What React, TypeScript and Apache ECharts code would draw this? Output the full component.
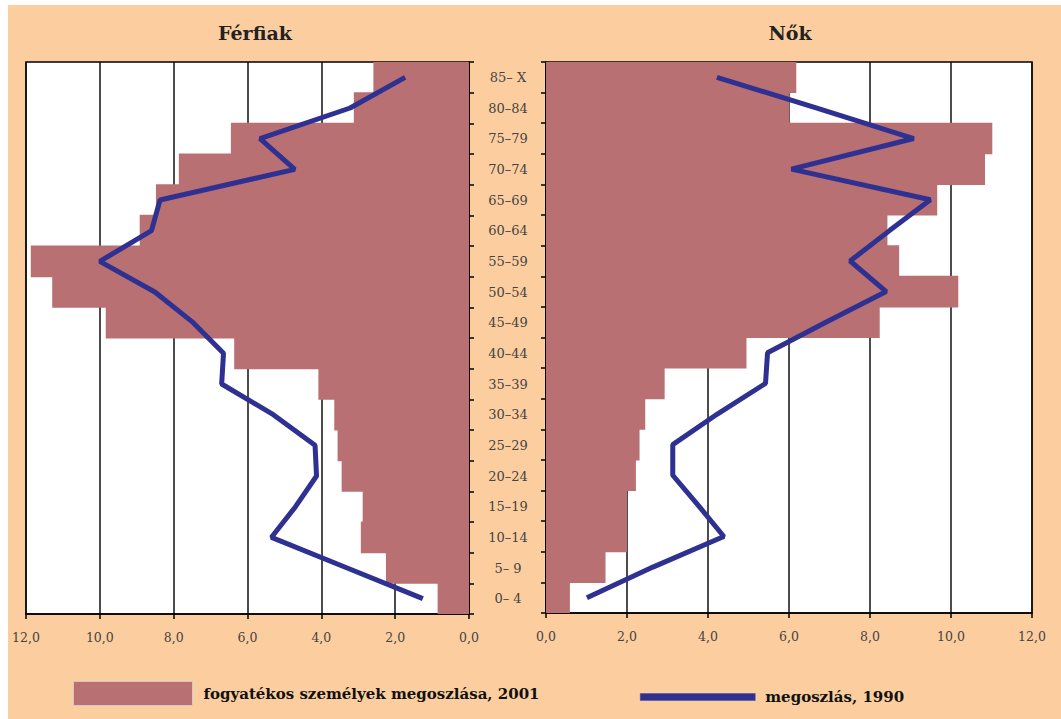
import React, { useEffect, useRef } from "react";
import * as echarts from "echarts";

const ageGroups = ["0– 4", "5– 9", "10–14", "15–19", "20–24", "25–29", "30–34", "35–39", "40–44", "45–49", "50–54", "55–59", "60–64", "65–69", "70–74", "75–79", "80–84", "85– X"];

const maleBars2001 = [0.85, 2.25, 2.93, 2.88, 3.45, 3.56, 3.65, 4.08, 6.36, 9.84, 11.29, 11.87, 8.92, 8.48, 7.86, 6.45, 3.12, 2.59];
const maleLine1990 = [1.25, 3.3, 5.35, 4.7, 4.13, 4.17, 5.3, 6.7, 6.65, 7.47, 8.51, 10.0, 8.6, 8.37, 4.72, 5.66, 3.22, 1.73];

const femaleBars2001 = [0.59, 1.47, 2.0, 2.0, 2.22, 2.31, 2.45, 2.93, 4.95, 8.24, 10.18, 8.72, 8.43, 9.66, 10.84, 11.02, 6.01, 6.18];
const femaleLine1990 = [1.01, 2.64, 4.39, 3.77, 3.13, 3.13, 4.23, 5.42, 5.47, 6.91, 8.4, 7.51, 8.49, 9.49, 6.06, 9.08, 6.67, 4.22];

const xTicks = { min: 0, max: 12, interval: 2 };

const barName = "fogyatékos személyek megoszlása, 2001";
const lineName = "megoszlás, 1990";
const titles = ["Férfiak", "Nők"];

const SERIF = "DejaVu Serif";
const BG = "#FCCE9F";
const BAR = "#B97073";
const LINE = "#2E3192";

export default function App() {
  const ref = useRef<HTMLDivElement>(null);
  useEffect(() => {
    if (!ref.current) return;
    const chart = echarts.init(ref.current, undefined, { renderer: "svg" });
    const axisLine = { show: true, lineStyle: { color: "#000", width: 1.5 } };
    const axisTick = { show: true, length: 5, lineStyle: { color: "#000", width: 1.5 } };
    const fmt = (v: number) => v.toFixed(1).replace(".", ",");
    const xAxisBase = (grid: number, inverse: boolean) => ({
      gridIndex: grid,
      type: "value",
      inverse,
      min: xTicks.min,
      max: xTicks.max,
      interval: xTicks.interval,
      axisLine,
      axisTick,
      axisLabel: { formatter: fmt, fontFamily: SERIF, fontSize: 12.5, color: "#444", margin: 17 },
      splitLine: { show: true, lineStyle: { color: "#111", width: 1.5 } },
    });
    const titleStyle = { fontFamily: SERIF, fontWeight: "bold", fontSize: 19, color: "#222" };
    const legendText = { fontFamily: SERIF, fontWeight: "bold", fontSize: 15, color: "#111" };
    const option: any = {
      animation: false,
      backgroundColor: BG,
      textStyle: { fontFamily: SERIF },
      title: [
        { text: titles[0], left: 247, top: 18, padding: 0, textAlign: "center", textStyle: titleStyle },
        { text: titles[1], left: 782, top: 18, padding: 0, textAlign: "center", textStyle: titleStyle },
      ],
      legend: [
        {
          data: [{ name: barName, icon: "rect" }],
          left: 65,
          top: 676,
          padding: 0,
          itemWidth: 119,
          itemHeight: 24,
          itemStyle: { borderColor: "#d9c8c0", borderWidth: 1 },
          textStyle: { ...legendText, padding: [0, 0, 0, 6] },
        },
        {
          data: [{ name: lineName, icon: "rect" }],
          left: 632,
          top: 684.5,
          padding: 0,
          itemWidth: 115,
          itemHeight: 7,
          itemStyle: { color: LINE, borderColor: "#4a4da0", borderWidth: 0.5 },
          textStyle: { ...legendText, padding: [0, 0, 0, 5] },
        },
      ],
      grid: [
        { left: 18, top: 57, width: 443, height: 552, show: true, backgroundColor: "#fff", borderColor: "#000", borderWidth: 1.5 },
        { left: 538, top: 57, width: 486, height: 551, show: true, backgroundColor: "#fff", borderColor: "#000", borderWidth: 1.5 },
      ],
      xAxis: [xAxisBase(0, true), xAxisBase(1, false)],
      yAxis: [
        {
          gridIndex: 0,
          type: "category",
          data: ageGroups,
          position: "right",
          axisLine,
          axisTick,
          axisLabel: { align: "center", margin: 39, fontFamily: SERIF, fontSize: 13, color: "#444" },
          splitLine: { show: false },
        },
        {
          gridIndex: 1,
          type: "category",
          data: ageGroups,
          position: "left",
          axisLine,
          axisTick,
          axisLabel: { show: false },
          splitLine: { show: false },
        },
      ],
      series: [
        { name: barName, type: "bar", xAxisIndex: 0, yAxisIndex: 0, data: maleBars2001, barWidth: 31.6, itemStyle: { color: BAR } },
        { name: lineName, type: "line", xAxisIndex: 0, yAxisIndex: 0, data: maleLine1990, symbol: "none", lineStyle: { width: 5, color: LINE }, itemStyle: { color: LINE }, z: 5 },
        { name: barName, type: "bar", xAxisIndex: 1, yAxisIndex: 1, data: femaleBars2001, barWidth: 31.6, itemStyle: { color: BAR } },
        { name: lineName, type: "line", xAxisIndex: 1, yAxisIndex: 1, data: femaleLine1990, symbol: "none", lineStyle: { width: 5, color: LINE }, itemStyle: { color: LINE }, z: 5 },
      ],
    };
    chart.setOption(option);
    return () => chart.dispose();
  }, []);
  return (
    <div
      ref={ref}
      style={{ position: "absolute", left: 8, top: 5, width: 1053, height: 714, background: BG }}
    />
  );
}
